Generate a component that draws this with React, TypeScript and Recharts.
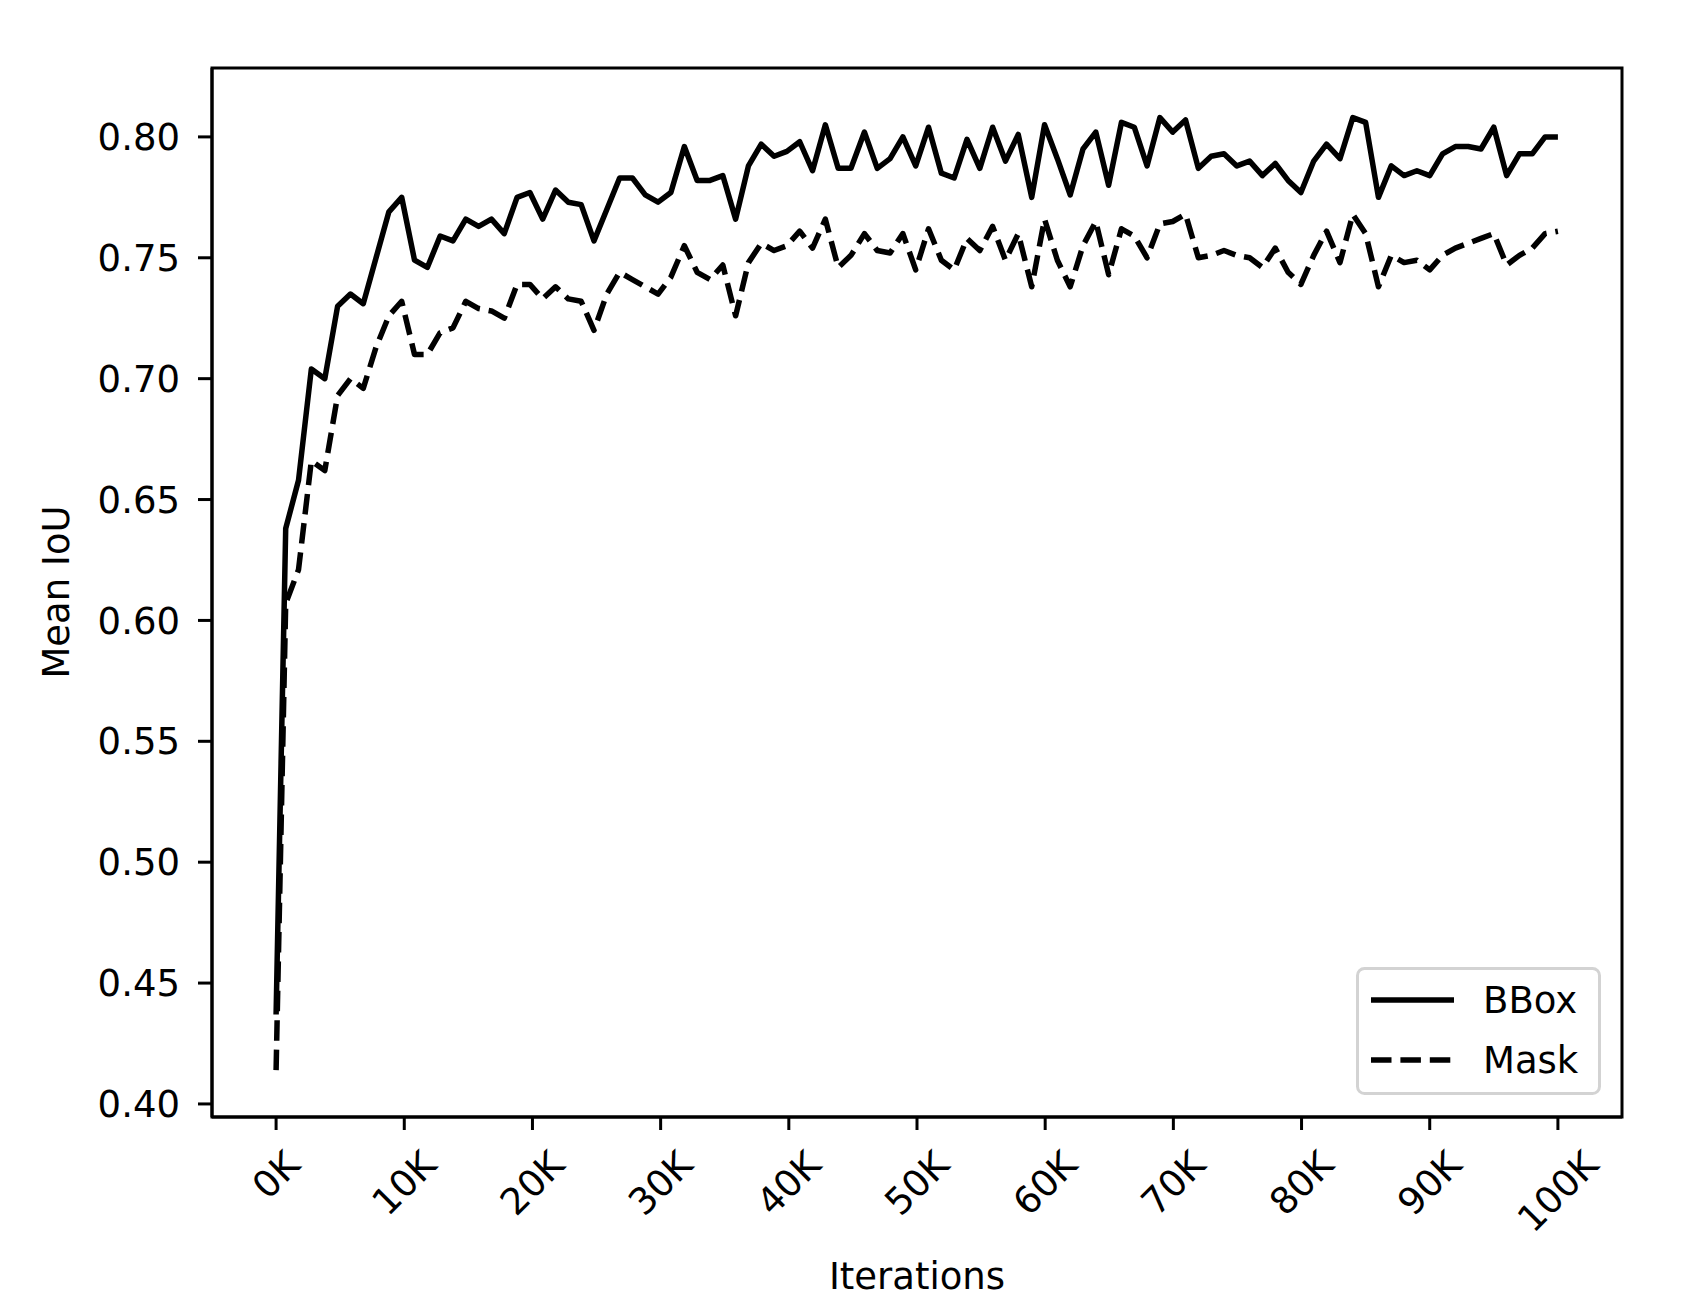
import { LineChart, Line, XAxis, YAxis, Legend, ReferenceArea } from 'recharts';

// iteration (in thousands) of every evaluation point
const ITER_K = [
  0, 0.75, 1.75, 2.75, 3.8, 4.8, 5.8, 6.8, 7.8, 8.8,
  9.8, 10.8, 11.8, 12.8, 13.8, 14.8, 15.8, 16.8, 17.8, 18.8,
  19.8, 20.8, 21.8, 22.8, 23.8, 24.8, 25.8, 26.8, 27.8, 28.8,
  29.8, 30.8, 31.85, 32.85, 33.85, 34.85, 35.85, 36.85, 37.85, 38.85,
  39.85, 40.85, 41.85, 42.85, 43.85, 44.85, 45.9, 46.9, 47.9, 48.9,
  49.9, 50.9, 51.9, 52.9, 53.9, 54.9, 55.9, 56.9, 57.9, 58.95,
  59.95, 60.95, 61.95, 62.95, 63.95, 64.95, 65.95, 66.95, 67.95, 68.95,
  69.95, 70.95, 71.95, 72.95, 73.95, 74.95, 75.95, 76.95, 77.95, 78.95,
  79.95, 80.95, 81.95, 83, 84, 85, 86, 87, 88, 89,
  90, 91, 92, 93, 94, 95, 96, 97, 98, 99,
  100,
];

const BBOX = [
  0.437, 0.638, 0.658, 0.704, 0.700, 0.730, 0.735, 0.731, 0.750, 0.769,
  0.775, 0.749, 0.746, 0.759, 0.757, 0.766, 0.763, 0.766, 0.760, 0.775,
  0.777, 0.766, 0.778, 0.773, 0.772, 0.757, 0.770, 0.783, 0.783, 0.776,
  0.773, 0.777, 0.796, 0.782, 0.782, 0.784, 0.766, 0.788, 0.797, 0.792,
  0.794, 0.798, 0.786, 0.805, 0.787, 0.787, 0.802, 0.787, 0.791, 0.800,
  0.788, 0.804, 0.785, 0.783, 0.799, 0.787, 0.804, 0.790, 0.801, 0.775,
  0.805, 0.791, 0.776, 0.795, 0.802, 0.780, 0.806, 0.804, 0.788, 0.808,
  0.802, 0.807, 0.787, 0.792, 0.793, 0.788, 0.790, 0.784, 0.789, 0.782,
  0.777, 0.790, 0.797, 0.791, 0.808, 0.806, 0.775, 0.788, 0.784, 0.786,
  0.784, 0.793, 0.796, 0.796, 0.795, 0.804, 0.784, 0.793, 0.793, 0.800,
  0.800,
];

const MASK = [
  0.414, 0.607, 0.621, 0.666, 0.662, 0.693, 0.700, 0.696, 0.713, 0.726,
  0.732, 0.710, 0.710, 0.719, 0.721, 0.732, 0.729, 0.728, 0.725, 0.739,
  0.739, 0.733, 0.738, 0.733, 0.732, 0.720, 0.735, 0.744, 0.741, 0.738,
  0.735, 0.742, 0.755, 0.744, 0.741, 0.747, 0.726, 0.748, 0.756, 0.753,
  0.755, 0.761, 0.754, 0.766, 0.746, 0.751, 0.760, 0.753, 0.752, 0.760,
  0.745, 0.762, 0.749, 0.745, 0.758, 0.753, 0.763, 0.749, 0.760, 0.738,
  0.766, 0.749, 0.738, 0.755, 0.765, 0.743, 0.762, 0.759, 0.750, 0.764,
  0.765, 0.768, 0.750, 0.751, 0.753, 0.751, 0.750, 0.746, 0.754, 0.744,
  0.739, 0.751, 0.761, 0.748, 0.768, 0.760, 0.738, 0.751, 0.748, 0.749,
  0.745, 0.751, 0.754, 0.756, 0.758, 0.760, 0.747, 0.751, 0.754, 0.760,
  0.761,
];

const X_TICKS = [0, 10, 20, 30, 40, 50, 60, 70, 80, 90, 100];
const Y_TICKS = [0.4, 0.45, 0.5, 0.55, 0.6, 0.65, 0.7, 0.75, 0.8];
const X_DOMAIN = [-5, 105];
const Y_DOMAIN = [0.3946, 0.8285];

const data = ITER_K.map((k, i) => ({ k, bbox: BBOX[i], mask: MASK[i] }));

const FONT = '"DejaVu Sans", sans-serif';
const FS = 37;
const LW = 5.5;
const DASH = '20.5 8.9';
const AXIS = { stroke: '#000', strokeWidth: 3 };

// rough DejaVu Sans advance widths (em)
const charW = (c: string) => (c === 'K' ? 0.656 : c === '.' ? 0.318 : 0.636);

function XTick(props: any) {
  const { x, y, payload } = props;
  const label = `${payload.value}K`;
  const w = label.split('').reduce((s, c) => s + charW(c), 0) * FS;
  const h = 1.164 * FS;
  const cy = y + (w + h) / (2 * Math.SQRT2);
  return (
    <text
      x={x}
      y={cy}
      transform={`rotate(-45 ${x} ${cy})`}
      textAnchor="middle"
      dominantBaseline="central"
      fill="#000"
      fontSize={FS}
      fontFamily={FONT}
    >
      {label}
    </text>
  );
}

function LegendBox(props: any) {
  const items = props.payload || [];
  return (
    <svg width={245} height={128} style={{ display: 'block' }}>
      <rect x={1.5} y={1.5} width={242} height={125} rx={7} fill="#fff" fillOpacity={0.8} stroke="#d3d3d3" strokeWidth={3} />
      {items.map((it: any, i: number) => {
        const cy = 33 + i * 60;
        return (
          <g key={it.value}>
            <line x1={15} x2={98} y1={cy} y2={cy} stroke="#000" strokeWidth={LW} strokeDasharray={it.payload?.strokeDasharray} />
            <text x={127} y={cy} dominantBaseline="central" fontSize={FS} fontFamily={FONT} fill="#000">
              {it.value}
            </text>
          </g>
        );
      })}
    </svg>
  );
}

export default function App() {
  return (
    <div style={{ position: 'absolute', left: 0, top: 0, background: '#fff' }}>
      <LineChart width={1704} height={1314} data={data} margin={{ top: 68, right: 82, left: 0, bottom: 0 }}>
        <XAxis
          dataKey="k"
          type="number"
          domain={X_DOMAIN}
          ticks={X_TICKS}
          allowDataOverflow
          height={197}
          axisLine={AXIS}
          tickLine={AXIS}
          tickSize={13}
          tickMargin={13}
          tick={<XTick />}
          interval={0}
          label={{
            content: () => (
              <text x={917} y={1276} textAnchor="middle" dominantBaseline="central" fontSize={FS} fontFamily={FONT} fill="#000">
                Iterations
              </text>
            ),
          }}
        />
        <YAxis
          type="number"
          domain={Y_DOMAIN}
          ticks={Y_TICKS}
          allowDataOverflow
          width={212}
          axisLine={AXIS}
          tickLine={AXIS}
          tickSize={14}
          tickMargin={18}
          interval={0}
          tickFormatter={(v: number) => v.toFixed(2)}
          tick={{ fill: '#000', fontSize: FS, fontFamily: FONT }}
          label={{
            content: () => (
              <text x={56} y={592} transform="rotate(-90 56 592)" textAnchor="middle" dominantBaseline="central" fontSize={FS} fontFamily={FONT} fill="#000">
                Mean IoU
              </text>
            ),
          }}
        />
        <ReferenceArea
          x1={X_DOMAIN[0]}
          x2={X_DOMAIN[1]}
          y1={Y_DOMAIN[0]}
          y2={Y_DOMAIN[1]}
          fill="none"
          stroke="#000"
          strokeWidth={3}
          ifOverflow="visible"
        />
        <Line type="linear" dataKey="bbox" name="BBox" stroke="#000" strokeWidth={LW} strokeLinejoin="round" dot={false} isAnimationActive={false} />
        <Line type="linear" dataKey="mask" name="Mask" stroke="#000" strokeWidth={LW} strokeLinejoin="round" strokeDasharray={DASH} dot={false} isAnimationActive={false} />
        <Legend
          layout="vertical"
          align="center"
          verticalAlign="middle"
          wrapperStyle={{ left: 1356, top: 967, width: 245, height: 128 }}
          content={<LegendBox />}
        />
      </LineChart>
    </div>
  );
}
